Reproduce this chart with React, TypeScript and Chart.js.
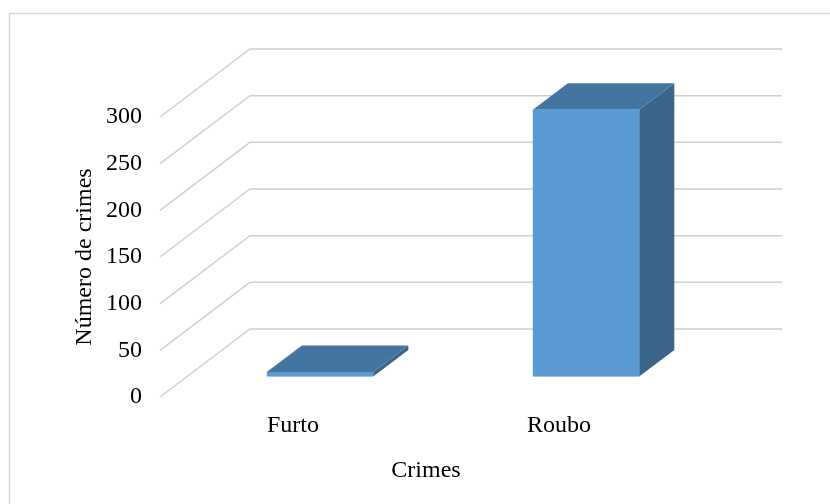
import React, { useEffect, useRef } from 'react';
import { Chart, registerables } from 'chart.js';

Chart.register(...registerables);

// ---- data ----
const categories = ['Furto', 'Roubo'];
const crimeCounts = [5, 286];
const yTicks = [0, 50, 100, 150, 200, 250, 300];
const xTitle = 'Crimes';
const yTitle = 'Número de crimes';

// ---- style ----
const FONT_FAMILY = '"Liberation Serif", "Times New Roman", serif';
const FONT = { family: FONT_FAMILY, size: 24 };
const DEPTH_X = 90;
const DEPTH_Y = -68;
const BAR_FRONT = 0.3;
const BAR_BACK = 0.69;
const PAD_LEFT = 70.6;

const threeD = {
  id: 'threeD',
  beforeDraw(chart: any) {
    const ctx = chart.ctx;
    ctx.save();
    ctx.strokeStyle = '#d9d9d9';
    ctx.lineWidth = 1.5;
    ctx.strokeRect(9.5, 13.5, 1000, 1000);
    ctx.restore();
  },
  beforeDatasetsDraw(chart: any) {
    const { ctx, chartArea, scales } = chart;
    const y = scales.y;
    ctx.save();
    ctx.strokeStyle = '#d0d0d0';
    ctx.lineWidth = 1.5;
    y.ticks.forEach((t: any) => {
      const py = y.getPixelForValue(t.value);
      ctx.beginPath();
      ctx.moveTo(chartArea.left, py);
      ctx.lineTo(chartArea.left + DEPTH_X, py + DEPTH_Y);
      ctx.lineTo(chartArea.right + DEPTH_X, py + DEPTH_Y);
      ctx.stroke();
    });
    ctx.restore();
  },
  afterDatasetsDraw(chart: any) {
    const ctx = chart.ctx;
    const meta = chart.getDatasetMeta(0);
    ctx.save();
    meta.data.forEach((el: any) => {
      const { x, y, base, width } = el.getProps(['x', 'y', 'base', 'width'], true);
      const fx = DEPTH_X * BAR_FRONT;
      const fy = DEPTH_Y * BAR_FRONT;
      const dx = DEPTH_X * (BAR_BACK - BAR_FRONT);
      const dy = DEPTH_Y * (BAR_BACK - BAR_FRONT);
      const l = x - width / 2 + fx;
      const r = x + width / 2 + fx;
      const t = y + fy;
      const b = base + fy;
      // side
      ctx.fillStyle = '#3A6488';
      ctx.beginPath();
      ctx.moveTo(r, t);
      ctx.lineTo(r + dx, t + dy);
      ctx.lineTo(r + dx, b + dy);
      ctx.lineTo(r, b);
      ctx.closePath();
      ctx.fill();
      // top
      ctx.fillStyle = '#4475A0';
      ctx.beginPath();
      ctx.moveTo(l, t);
      ctx.lineTo(l + dx, t + dy);
      ctx.lineTo(r + dx, t + dy);
      ctx.lineTo(r, t);
      ctx.closePath();
      ctx.fill();
      // front
      ctx.fillStyle = '#5B9BD5';
      ctx.fillRect(l, t, r - l, b - t);
    });
    ctx.restore();
  },
};

export default function App() {
  const ref = useRef<HTMLCanvasElement | null>(null);

  useEffect(() => {
    if (!ref.current) return;
    const chart = new Chart(ref.current, {
      type: 'bar',
      data: {
        labels: categories,
        datasets: [
          {
            data: crimeCounts,
            backgroundColor: 'rgba(0,0,0,0)',
            borderWidth: 0,
            barPercentage: 0.4,
            categoryPercentage: 1,
          },
        ],
      },
      options: {
        responsive: false,
        animation: false,
        layout: { padding: { left: PAD_LEFT, top: 117, right: 138, bottom: 18.6 } },
        plugins: { legend: { display: false }, tooltip: { enabled: false } },
        scales: {
          x: {
            grid: { display: false, drawTicks: false },
            border: { display: false },
            ticks: { font: FONT, color: '#000', padding: 14.6, maxRotation: 0 },
            title: { display: true, text: xTitle, font: FONT, color: '#000', padding: 0 },
            afterFit: (s: any) => {
              s.height = 504 - 18.6 - 397;
            },
          },
          y: {
            min: 0,
            max: 300,
            grid: { display: false, drawTicks: false },
            border: { display: false },
            ticks: { font: FONT, color: '#000', padding: 18 },
            afterBuildTicks: (s: any) => {
              s.ticks = yTicks.map((v) => ({ value: v }));
            },
            title: { display: true, text: yTitle, font: FONT, color: '#000', padding: 0 },
            afterFit: (s: any) => {
              s.width = 160 - PAD_LEFT;
            },
          },
        },
      },
      plugins: [threeD],
    } as any);
    return () => chart.destroy();
  }, []);

  return (
    <div style={{ position: 'fixed', left: 0, top: 0, width: 830, height: 504, background: '#fff' }}>
      <canvas ref={ref} width={830} height={504} style={{ width: 830, height: 504 }} />
    </div>
  );
}
